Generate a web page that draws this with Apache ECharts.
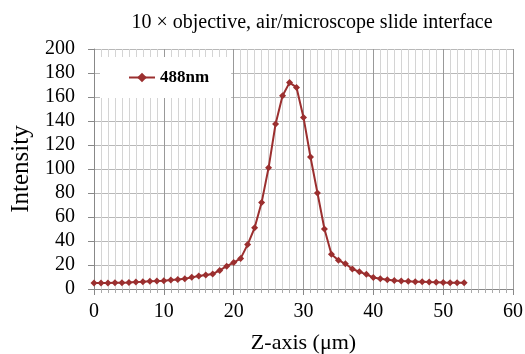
<!DOCTYPE html>
<html>
<head>
<meta charset="utf-8">
<script src="https://cdn.jsdelivr.net/npm/echarts@6/dist/echarts.min.js"></script>
<style>
  html, body { margin: 0; padding: 0; background: #fff; }
  #chart { width: 525px; height: 354px; }
</style>
</head>
<body>
<div id="chart"></div>
<script>
let zPos = [];
for (let i = 0; i <= 53; i++) zPos.push(i);
let intensity488 = [5, 5, 5, 5.3, 5.3, 5.5, 5.8, 6, 6.4, 6.6,
    6.9, 7.5, 8, 8.6, 9.7, 10.8, 11.7, 12.5, 15.5, 19,
    22, 25.5, 37, 51, 72, 101, 137.5, 161, 172, 168,
    143, 110, 80, 50, 29, 24, 21, 16.7, 14.4, 12.2,
    9.6, 8.5, 7.8, 7, 6.7, 6.5, 6.1, 6, 5.8, 5.6,
    5.4, 5.3, 5.3, 5.3];
let seriesName = '488nm';

let points = zPos.map((z, i) => [z, intensity488[i]]);

let serif = '"Liberation Serif", "Times New Roman", serif';
let lineColor = '#9b2f2f';

let option = {
    animation: false,
    title: {
        text: '10 × objective, air/microscope slide interface',
        left: 307,
        textAlign: 'center',
        top: 8,
        textStyle: { fontFamily: serif, fontSize: 20, fontWeight: 'normal', color: '#000' }
    },
    legend: {
        data: [seriesName],
        left: 100,
        top: 57,
        padding: [12, 22, 12, 28],
        backgroundColor: '#fff',
        itemWidth: 26,
        itemHeight: 12,
        itemGap: 4,
        textStyle: { fontFamily: serif, fontSize: 17, fontWeight: 'bold', color: '#000' }
    },
    grid: { left: 94, right: 12, top: 49, bottom: 65, outerBoundsMode: 'none' },
    xAxis: {
        type: 'value',
        min: 0,
        max: 60,
        interval: 10,
        name: 'Z-axis (μm)',
        nameLocation: 'middle',
        nameGap: 43,
        nameTextStyle: { fontFamily: serif, fontSize: 22, color: '#000' },
        axisLine: { onZero: false, lineStyle: { color: '#888', width: 1 } },
        axisTick: { show: true, length: 6, lineStyle: { color: '#888' } },
        minorTick: { show: true, splitNumber: 10, length: 4, lineStyle: { color: '#aaa' } },
        axisLabel: { fontFamily: serif, fontSize: 20, color: '#000', margin: 13 },
        splitLine: { show: true, lineStyle: { color: '#999', width: 1 } },
        minorSplitLine: { show: true, lineStyle: { color: '#d4d4d4', width: 1 } }
    },
    yAxis: {
        type: 'value',
        min: 0,
        max: 200,
        interval: 20,
        name: 'Intensity',
        nameLocation: 'middle',
        nameGap: 60,
        nameTextStyle: { fontFamily: serif, fontSize: 25, color: '#000' },
        axisLine: { show: true, lineStyle: { color: '#888', width: 1 } },
        axisTick: { show: true, length: 6, lineStyle: { color: '#888' } },
        axisLabel: { fontFamily: serif, fontSize: 20, color: '#000', margin: 19 },
        splitLine: { show: true, lineStyle: { color: '#b8b8b8', width: 1 } }
    },
    series: [{
        name: seriesName,
        type: 'line',
        data: points,
        symbol: 'diamond',
        symbolSize: 7,
        lineStyle: { color: lineColor, width: 2 },
        itemStyle: { color: lineColor }
    }]
};

let myChart = echarts.init(document.getElementById('chart'));
myChart.setOption(option);
</script>
</body>
</html>
